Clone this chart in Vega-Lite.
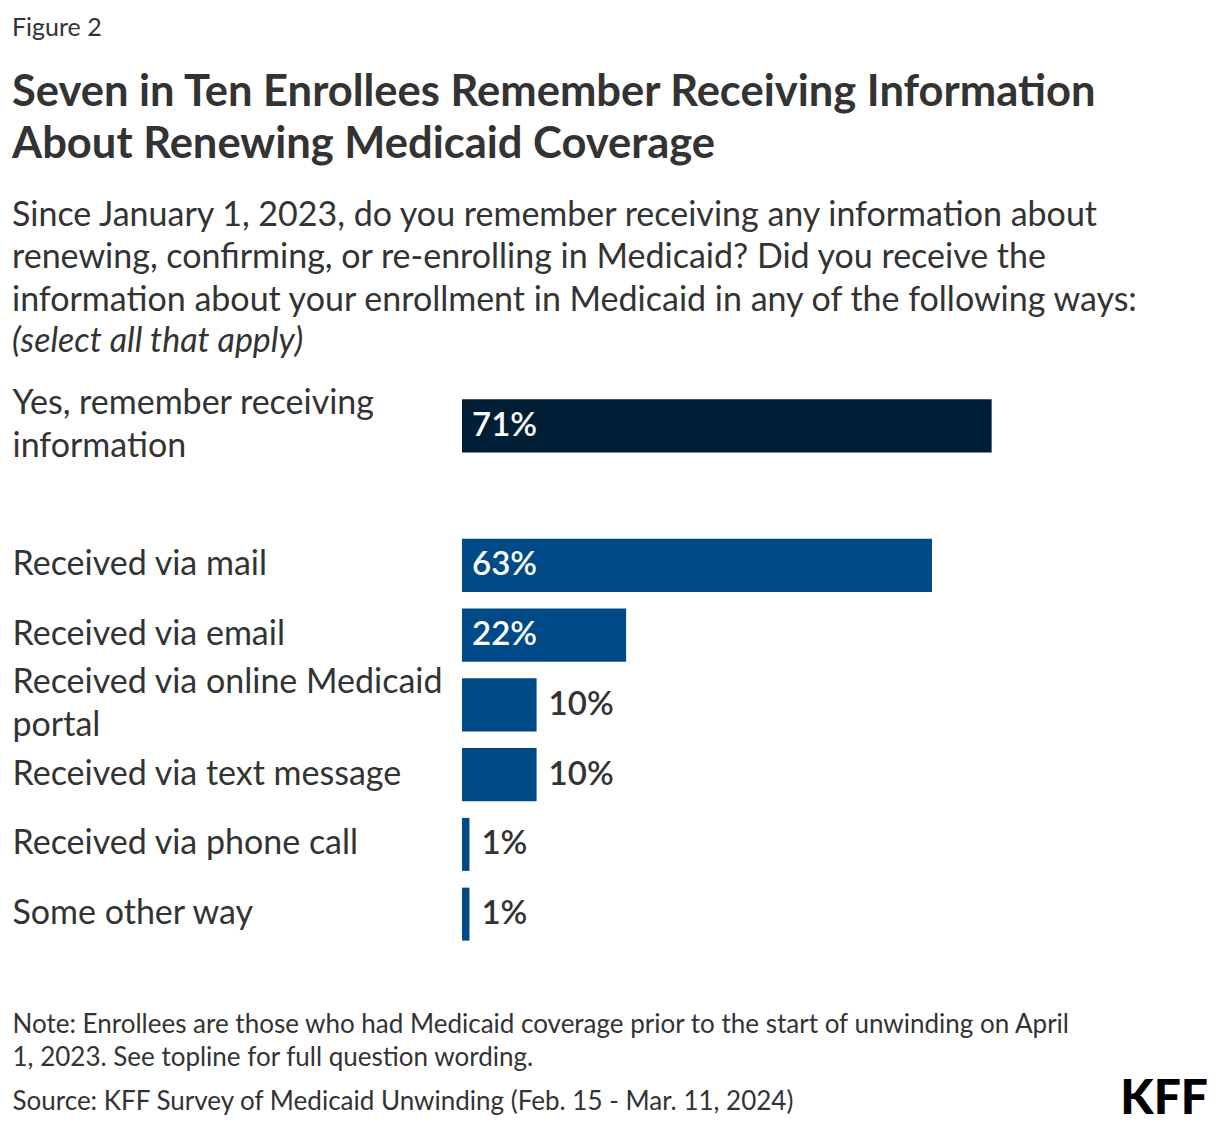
{
  "$schema": "https://vega.github.io/schema/vega-lite/v6.json",
  "background": "white",
  "padding": {"left": 12, "right": 12, "top": 16, "bottom": 6},
  "config": {"font": "Lato", "view": {"stroke": null}},
  "title": {
    "text": "Figure 2",
    "subtitle": ["Seven in Ten Enrollees Remember Receiving Information", "About Renewing Medicaid Coverage"],
    "anchor": "start",
    "fontSize": 25,
    "fontWeight": "normal",
    "color": "#333333",
    "subtitleFontSize": 43.5,
    "subtitleFontWeight": "bold",
    "subtitleColor": "#333333",
    "subtitleLineHeight": 52,
    "subtitlePadding": 31,
    "offset": 32
  },
  "spacing": 59,
  "vconcat": [
    {
      "title": {
        "text": ["Since January 1, 2023, do you remember receiving any information about", "renewing, confirming, or re-enrolling in Medicaid? Did you receive the", "information about your enrollment in Medicaid in any of the following ways:"],
        "subtitle": "(select all that apply)",
        "anchor": "start",
        "fontSize": 34,
        "fontWeight": "normal",
        "lineHeight": 42.5,
        "color": "#333333",
        "subtitleFontSize": 34,
        "subtitleFontStyle": "italic",
        "subtitleColor": "#333333",
        "subtitlePadding": 7,
        "offset": 28
      },
      "width": 746,
      "height": 558,
      "data": {
        "values": [
          {"category": "Yes, remember receiving|information", "pct": 71, "group": "Remembered"},
          {"category": "Received via mail", "pct": 63, "group": "Way"},
          {"category": "Received via email", "pct": 22, "group": "Way"},
          {"category": "Received via online Medicaid|portal", "pct": 10, "group": "Way"},
          {"category": "Received via text message", "pct": 10, "group": "Way"},
          {"category": "Received via phone call", "pct": 1, "group": "Way"},
          {"category": "Some other way", "pct": 1, "group": "Way"}
        ]
      },
      "transform": [{"calculate": "datum.pct + '%'", "as": "label"}],
      "encoding": {
        "y": {
          "field": "category",
          "type": "nominal",
          "sort": null,
          "scale": {
            "domain": ["Yes, remember receiving|information", " ", "Received via mail", "Received via email", "Received via online Medicaid|portal", "Received via text message", "Received via phone call", "Some other way"],
            "paddingInner": 0.24,
            "paddingOuter": 0.12
          },
          "axis": {
            "title": null,
            "domain": false,
            "ticks": false,
            "labelAlign": "left",
            "labelPadding": 450,
            "labelLimit": 460,
            "labelFontSize": 34,
            "labelColor": "#333333",
            "labelLineHeight": 43,
            "labelOffset": {"condition": {"test": "indexof(datum.value, '|') >= 0", "value": -21.5}, "value": 0},
            "labelExpr": "split(datum.label, '|')"
          }
        }
      },
      "layer": [
        {
          "mark": {"type": "bar"},
          "encoding": {
            "x": {"field": "pct", "type": "quantitative", "scale": {"domain": [0, 100]}, "axis": null},
            "color": {"field": "group", "type": "nominal", "scale": {"domain": ["Remembered", "Way"], "range": ["#001F37", "#004A87"]}, "legend": null}
          }
        },
        {
          "transform": [{"filter": "datum.pct >= 20"}],
          "mark": {"type": "text", "align": "left", "baseline": "middle", "dx": 10, "color": "white", "fontSize": 33, "fontWeight": 600},
          "encoding": {
            "x": {"datum": 0, "type": "quantitative"},
            "text": {"field": "label"}
          }
        },
        {
          "transform": [{"filter": "datum.pct < 20"}],
          "mark": {"type": "text", "align": "left", "baseline": "middle", "dx": 12, "color": "#333333", "fontSize": 33, "fontWeight": 600},
          "encoding": {
            "x": {"field": "pct", "type": "quantitative"},
            "text": {"field": "label"}
          }
        }
      ]
    },
    {
      "width": 746,
      "height": 77,
      "encoding": {
        "y": {
          "field": "line",
          "type": "ordinal",
          "sort": null,
          "scale": {"type": "point", "padding": 0, "domain": ["Note: Enrollees are those who had Medicaid coverage prior to the start of unwinding on April|1, 2023. See topline for full question wording.", "Source: KFF Survey of Medicaid Unwinding (Feb. 15 - Mar. 11, 2024)"]},
          "axis": {
            "title": null,
            "domain": false,
            "ticks": false,
            "labelAlign": "left",
            "labelBaseline": "top",
            "labelPadding": 450,
            "labelLimit": 1200,
            "labelFontSize": 26,
            "labelColor": "#333333",
            "labelLineHeight": 33,
            "labelExpr": "split(datum.label, '|')"
          }
        }
      },
      "layer": [
        {
          "data": {
            "values": [
              {"line": "Note: Enrollees are those who had Medicaid coverage prior to the start of unwinding on April|1, 2023. See topline for full question wording."},
              {"line": "Source: KFF Survey of Medicaid Unwinding (Feb. 15 - Mar. 11, 2024)"}
            ]
          },
          "mark": {"type": "point", "opacity": 0},
          "encoding": {
            "x": {"datum": 0, "type": "quantitative", "scale": {"domain": [0, 1]}, "axis": null}
          }
        },
        {
          "data": {"values": [{"logo": "KFF"}]},
          "mark": {"type": "text", "align": "right", "baseline": "top", "dy": -12, "fontSize": 48, "fontWeight": 900, "color": "#000000"},
          "encoding": {
            "y": {"datum": "Source: KFF Survey of Medicaid Unwinding (Feb. 15 - Mar. 11, 2024)", "type": "ordinal"},
            "x": {"datum": 1, "type": "quantitative"},
            "text": {"field": "logo"}
          }
        }
      ]
    }
  ]
}
